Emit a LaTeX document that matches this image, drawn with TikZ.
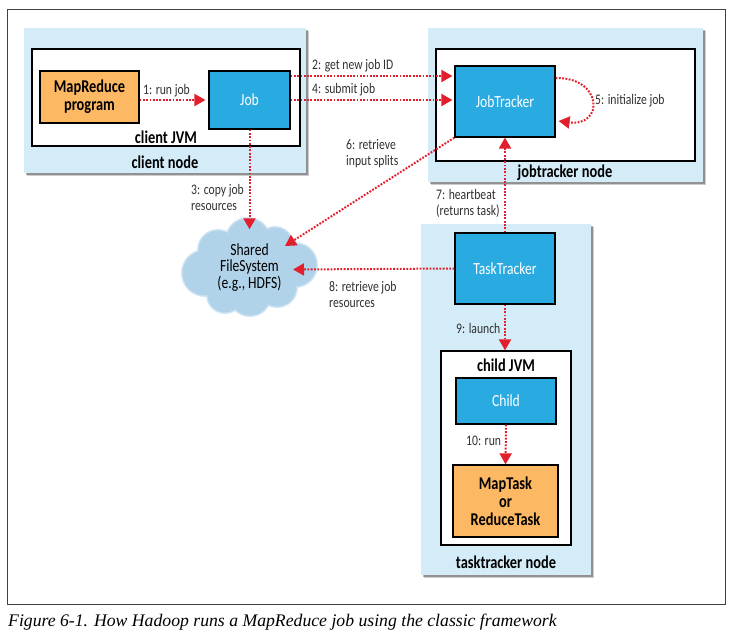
\documentclass[tikz,border=0pt]{standalone}
\usepackage{fontspec}
\usetikzlibrary{arrows.meta,shadows}
\setmainfont{Carlito}[FakeStretch=0.8]
\newfontfamily\capfont{Liberation Serif}
\definecolor{nodebg}{HTML}{D3ECF7}
\definecolor{procblue}{HTML}{29ABE2}
\definecolor{progorange}{HTML}{FDB863}
\definecolor{cloudblue}{HTML}{B1D3EA}
\definecolor{linkred}{HTML}{E21F2D}
\definecolor{labelgray}{HTML}{303030}
\tikzset{
  x=1pt,y=-1pt,
  hostbox/.style={fill=nodebg,inner sep=0pt,
    drop shadow={shadow xshift=1.5pt,shadow yshift=-1.5pt,opacity=.3,fill=black},
    drop shadow={shadow xshift=3pt,shadow yshift=-3pt,opacity=.25,fill=black!80}},
  jvmbox/.style={draw=black,fill=white,line width=1.2pt,inner sep=0pt},
  procbox/.style={draw=black,fill=procblue,line width=1.2pt,inner sep=0pt,text=white,
    font=\fontsize{17}{20}\selectfont,align=center},
  codebox/.style={draw=black,fill=progorange,line width=1.2pt,inner sep=0pt,
    font=\bfseries\fontsize{18}{18}\selectfont,align=center},
  hosttitle/.style={inner sep=0pt,font=\bfseries\fontsize{18}{20}\selectfont},
  steplabel/.style={inner sep=0pt,anchor=west,align=left,text=labelgray,
    font=\fontsize{14.6}{16}\selectfont},
  link/.style={draw=linkred,line width=2pt,dash pattern=on 1.8pt off 1.5pt,
    -{Triangle[length=11pt,width=12pt,fill=linkred]}},
}
\begin{document}
\begin{tikzpicture}
\useasboundingbox (0,0) rectangle (733,638);
\node[draw=black!75,line width=1pt,inner sep=0pt,minimum width=718pt,minimum height=595pt] (frame) at (366,306.5) {};
% hosts
\node[hostbox,minimum width=282pt,minimum height=145pt] (clientnode) at (165,100.5) {};
\node[hostbox,minimum width=275pt,minimum height=154pt] (jtnode) at (565.5,105) {};
\node[hostbox,minimum width=170pt,minimum height=351pt] (ttnode) at (506,399.5) {};
% JVMs
\node[jvmbox,minimum width=268pt,minimum height=97pt] (clientjvm) at (166,97.5) {};
\node[jvmbox,minimum width=259pt,minimum height=112pt] (jtjvm) at (565.5,105) {};
\node[jvmbox,minimum width=130pt,minimum height=194pt] (childjvm) at (506,448) {};
% boxes
\node[codebox,minimum width=99pt,minimum height=52pt] (mrprog) at (89.5,97) {MapReduce\\program};
\node[procbox,minimum width=81pt,minimum height=58pt] (job) at (249.5,100) {Job};
\node[procbox,minimum width=100pt,minimum height=71pt] (jt) at (505,101.5) {JobTracker};
\node[procbox,minimum width=100pt,minimum height=71pt] (tt) at (505,268.5) {TaskTracker};
\node[procbox,minimum width=100pt,minimum height=46pt] (child) at (506,401) {Child};
\node[codebox,minimum width=105pt,minimum height=72pt] (task) at (505.5,501) {MapTask\\or\\ReduceTask};
% cloud
\foreach \cx/\cy/\cr in {248/240/22,218/250/20,205/273/23,225/295/18,250/295/21,277/287/20,295/265/22,275/245/18,248/268/35}{
  \fill[cloudblue!60] (\cx,\cy) circle[radius=\cr pt+1pt];
}
\foreach \cx/\cy/\cr in {248/240/22,218/250/20,205/273/23,225/295/18,250/295/21,277/287/20,295/265/22,275/245/18,248/268/35}{
  \fill[cloudblue] (\cx,\cy) circle[radius=\cr pt-0.5pt];
}
\node[inner sep=0pt,minimum width=136pt,minimum height=98pt,align=center,text=black,
  font=\fontsize{17}{16.5}\selectfont] (cloud) at (249.5,267.5) {Shared\\FileSystem\\(e.g., HDFS)};
% titles
\node[hosttitle] (t1) at (166,137) {client JVM};
\node[hosttitle] (t2) at (165,162) {client node};
\node[hosttitle] (t3) at (565,173) {jobtracker node};
\node[hosttitle] (t4) at (506,365) {child JVM};
\node[hosttitle] (t5) at (506,562) {tasktracker node};
% connectors
\draw[link] ([yshift=-3pt]mrprog.east) -- ([xshift=-3pt]job.west);
\draw[link] ([yshift=24pt]job.east) -- ([xshift=-2pt,yshift=25.5pt]jt.west);
\draw[link] (job.east) -- ([xshift=-2pt,yshift=1.5pt]jt.west);
\draw[link] (job.south) -- ([yshift=-11pt]cloud.north);
\draw[link] (jt.south west) -- ([xshift=35.5pt,yshift=21.5pt]cloud.center);
\draw[link] ([yshift=23.5pt]jt.east) .. controls +(47pt,1pt) and +(46pt,-6pt) .. ([xshift=3pt,yshift=-19.5pt]jt.east);
\draw[link] (tt.north) -- (jt.south);
\draw[link] (tt.west) -- ([xshift=43.5pt,yshift=-2pt]cloud.center);
\draw[link] (tt.south) -- ([xshift=-1pt]childjvm.north);
\draw[link] (child.south) -- (task.north);
% labels
\node[steplabel] (l1) at (143,91) {1: run job};
\node[steplabel] (l2) at (312,66) {2: get new job ID};
\node[steplabel] (l4) at (312,90) {4: submit job};
\node[steplabel] (l6) at (346,154) {6: retrieve\\input splits};
\node[steplabel] (l3) at (191,197) {3: copy job\\resources};
\node[steplabel] (l5) at (595,101) {5: initialize job};
\node[steplabel] (l7) at (436,203) {7: heartbeat\\(returns task)};
\node[steplabel] (l8) at (329,294) {8: retrieve job\\resources};
\node[steplabel] (l9) at (456,328) {9: launch};
\node[steplabel] (l10) at (466,441) {10: run};
% caption
\node[inner sep=0pt,anchor=west,font=\capfont\itshape\fontsize{17.7}{20}\selectfont,text=black] (caption) at (8,622) {Figure 6-1. How Hadoop runs a MapReduce job using the classic framework};
\end{tikzpicture}
\end{document}
